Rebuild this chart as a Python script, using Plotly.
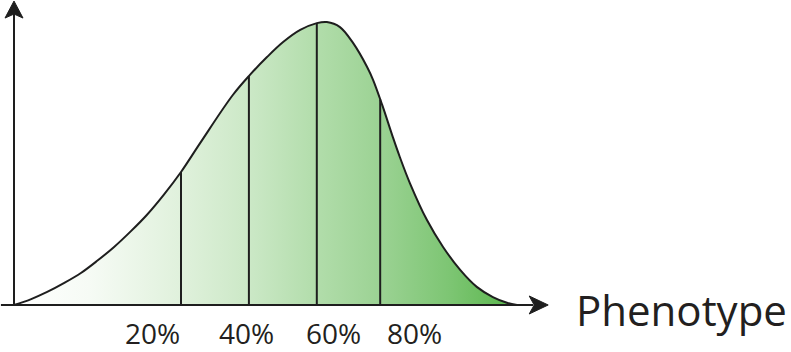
import numpy as np
import plotly.graph_objects as go

# ---- data (phenotype value vs. relative frequency) ----
curve_x = [0, 3.3, 6.6, 10.0, 13.3, 16.6, 19.9, 23.2, 26.4, 29.8, 33.2, 37.0,
           43.5, 46.9, 50.3, 53.5, 56.9, 60.2, 62.2, 64.8, 67.4, 70.2, 71.4,
           73.2, 75.3, 76.7, 78.7, 82.1, 85.3, 88.7, 92.0, 95.2, 98.0, 100.0]
curve_y = [0, 0.020, 0.046, 0.078, 0.113, 0.157, 0.205, 0.260, 0.318, 0.390,
           0.470, 0.572, 0.742, 0.813, 0.876, 0.929, 0.972, 0.996, 1.0, 0.982,
           0.926, 0.841, 0.795, 0.707, 0.594, 0.523, 0.431, 0.300, 0.205,
           0.124, 0.064, 0.028, 0.008, 0.0]

divider_x = [33.2, 46.7, 60.2, 72.8]          # percentile cut lines
tick_pos = [27.6, 46.3, 63.6, 79.7]
tick_text = ["20%", "40%", "60%", "80%"]
axis_title = "Phenotype"

W, H = 791, 352
X_RANGE = [-2.783, 154.47]
Y_RANGE = [-0.1661, 1.0777]

fig = go.Figure()

fig.add_trace(go.Scatter(
    x=curve_x, y=curve_y, mode="lines", line_shape="spline",
    line=dict(color="#1e1e1e", width=2),
    fill="tozeroy",
    fillgradient=dict(
        type="horizontal",
        colorscale=[[0.0, "#ffffff"], [0.15, "#f6fbf5"], [0.33, "#e0f1dc"],
                    [0.47, "#cbe8c6"], [0.60, "#b2ddab"], [0.73, "#9bd293"],
                    [0.87, "#7cc572"], [1.0, "#58b54a"]]),
    hoverinfo="skip", showlegend=False))

# percentile divider lines, up to the curve
div_top = np.interp(divider_x, curve_x, curve_y)
vx, vy = [], []
for xv, top in zip(divider_x, div_top):
    vx += [xv, xv, None]
    vy += [0, float(top), None]
fig.add_trace(go.Scatter(x=vx, y=vy, mode="lines",
                         line=dict(color="#1e1e1e", width=2),
                         hoverinfo="skip", showlegend=False))

# axes with arrowheads
x_tip = 106.2
y_tip = 1.074
shapes = [
    dict(type="line", xref="x", yref="y", x0=-2.6, x1=x_tip - 3.0, y0=0, y1=0,
         line=dict(color="#1e1e1e", width=2)),
    dict(type="line", xref="x", yref="y", x0=0, x1=0, y0=0, y1=y_tip - 0.04,
         line=dict(color="#1e1e1e", width=2)),
    dict(type="path", xref="x", yref="y", xsizemode="pixel", ysizemode="pixel",
         xanchor=x_tip, yanchor=0,
         path="M 0 0 L -19 9 L -14 0 L -19 -9 Z",
         fillcolor="#1e1e1e", line=dict(color="#1e1e1e", width=1)),
    dict(type="path", xref="x", yref="y", xsizemode="pixel", ysizemode="pixel",
         xanchor=0, yanchor=y_tip,
         path="M 0 0 L -9 -17 L 0 -13 L 9 -17 Z",
         fillcolor="#1e1e1e", line=dict(color="#1e1e1e", width=1)),
]

annotations = []
for xp, t in zip(tick_pos, tick_text):
    annotations.append(dict(x=xp, y=-0.099, xref="x", yref="y", text=t,
                            showarrow=False, xanchor="center", yanchor="middle",
                            font=dict(family="Open Sans", size=28, color="#231f20")))
annotations.append(dict(x=681 / W, y=1 - 309 / H, xref="paper", yref="paper",
                        text=axis_title, showarrow=False,
                        xanchor="center", yanchor="middle",
                        font=dict(family="Open Sans", size=42, color="#231f20")))

fig.update_layout(
    width=W, height=H,
    margin=dict(l=0, r=0, t=0, b=0),
    paper_bgcolor="white", plot_bgcolor="white",
    xaxis=dict(range=X_RANGE, visible=False, fixedrange=True),
    yaxis=dict(range=Y_RANGE, visible=False, fixedrange=True),
    shapes=shapes, annotations=annotations, showlegend=False,
)

fig.write_html("out.html")
